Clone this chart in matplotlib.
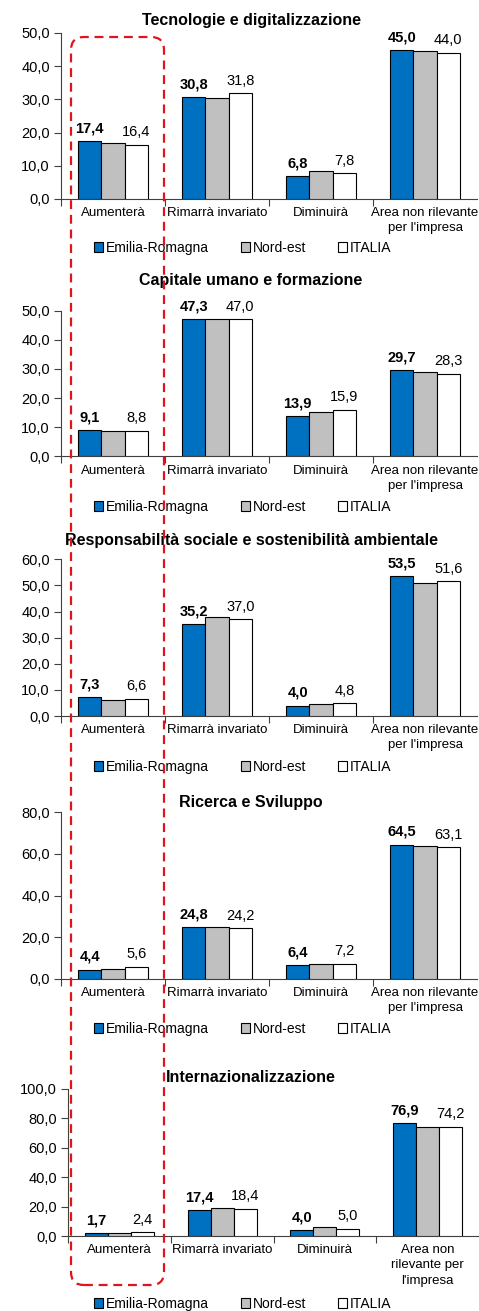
import matplotlib
matplotlib.use("Agg")
import matplotlib.pyplot as plt
from matplotlib.patches import Patch, FancyBboxPatch
from matplotlib.ticker import FuncFormatter
import numpy as np

plt.rcParams['font.family'] = ['Liberation Sans', 'DejaVu Sans']

titles = ["Tecnologie e digitalizzazione",
          "Capitale umano e formazione",
          "Responsabilità sociale e sostenibilità ambientale",
          "Ricerca e Sviluppo",
          "Internazionalizzazione"]
categories = ['Aumenterà', 'Rimarrà invariato', 'Diminuirà', "Area non rilevante\nper l'impresa"]
categories_last = ['Aumenterà', 'Rimarrà invariato', 'Diminuirà', "Area non\nrilevante per\nl'impresa"]
series_names = ['Emilia-Romagna', 'Nord-est', 'ITALIA']

emilia = [[17.4, 30.8, 6.8, 45.0],
          [9.1, 47.3, 13.9, 29.7],
          [7.3, 35.2, 4.0, 53.5],
          [4.4, 24.8, 6.4, 64.5],
          [1.7, 17.4, 4.0, 76.9]]
nordest = [[16.9, 30.4, 8.5, 44.5],
           [8.7, 47.1, 15.3, 28.9],
           [6.2, 38.0, 4.5, 51.0],
           [4.5, 24.9, 7.0, 63.6],
           [1.9, 18.9, 5.8, 73.8]]
italia = [[16.4, 31.8, 7.8, 44.0],
          [8.8, 47.0, 15.9, 28.3],
          [6.6, 37.0, 4.8, 51.6],
          [5.6, 24.2, 7.2, 63.1],
          [2.4, 18.4, 5.0, 74.2]]
ymax = [50, 50, 60, 80, 100]
ystep = [10, 10, 10, 20, 20]

colors = ['#0070C0', '#C0C0C0', '#FFFFFF']

W, H = 479, 1311
fig = plt.figure(figsize=(W / 100, H / 100), dpi=100)

# pixel boxes: left, top, right, bottom
boxes = [(61, 33, 477, 199),
         (61, 310.7, 477, 456.3),
         (61, 559.3, 477, 716),
         (61, 812.3, 477, 978.7),
         (68, 1088.7, 479, 1236)]
title_y = [20, 280, 540, 803, 1077]
legend_y = [248, 507, 767, 1029, 1304]

bw = 0.224
for i in range(5):
    L, T, R, B = boxes[i]
    ax = fig.add_axes([L / W, 1 - B / H, (R - L) / W, (B - T) / H])
    x = np.arange(4)
    data = [emilia[i], nordest[i], italia[i]]
    for k in range(3):
        bars = ax.bar(x + (k - 1) * bw, data[k], width=bw, color=colors[k],
                      edgecolor='black', linewidth=0.8, zorder=3)
        if k in (0, 2):
            for b, v in zip(bars, data[k]):
                ax.annotate(f"{v:.1f}".replace('.', ','), (b.get_x() + b.get_width() / 2, v),
                            xytext=(0, 4), textcoords='offset points', ha='center', va='bottom',
                            fontsize=10.5, fontweight='bold' if k == 0 else 'normal')
    ax.set_xlim(-0.5, 3.5)
    ax.set_ylim(0, ymax[i])
    ax.set_yticks(np.arange(0, ymax[i] + 0.1, ystep[i]))
    ax.yaxis.set_major_formatter(FuncFormatter(lambda v, p: f"{v:.1f}".replace('.', ',')))
    ax.set_xticks([-0.5, 0.5, 1.5, 2.5])
    ax.set_xticklabels([])
    ax.set_xticks(x, minor=True)
    ax.set_xticklabels(categories_last if i == 4 else categories, minor=True, fontsize=9.5,
                       linespacing=1.35)
    ax.tick_params(axis='x', which='minor', length=0, pad=6)
    ax.tick_params(axis='x', which='major', length=5, direction='out', color='#404040')
    ax.tick_params(axis='y', length=5, direction='out', labelsize=10.5, color='#404040', pad=3)
    for s in ['top', 'right']:
        ax.spines[s].set_visible(False)
    for s in ['left', 'bottom']:
        ax.spines[s].set_color('#404040')
        ax.spines[s].set_linewidth(0.8)
    ax.set_facecolor('none')

    fig.text(251 / W, 1 - title_y[i] / H, titles[i], ha='center', va='center',
             fontsize=11.5, fontweight='bold')
    handles = [Patch(facecolor=c, edgecolor='black', linewidth=0.8) for c in colors]
    fig.legend(handles, series_names, loc='center', bbox_to_anchor=(243 / W, 1 - legend_y[i] / H),
               ncol=3, frameon=False, fontsize=10, handlelength=0.65, handleheight=0.65,
               handletextpad=0.2, columnspacing=2.3, borderpad=0, borderaxespad=0)

# red dashed rounded rectangle highlighting "Aumenterà"
rect = FancyBboxPatch((0.71, 0.26), 0.93, 12.48, boxstyle="round,pad=0,rounding_size=0.13",
                      transform=fig.dpi_scale_trans, fill=False, edgecolor='#E0151B',
                      linewidth=1.6, linestyle=(0, (4, 2.6)), zorder=10)
fig.add_artist(rect)

fig.savefig("out.png", dpi=100)
